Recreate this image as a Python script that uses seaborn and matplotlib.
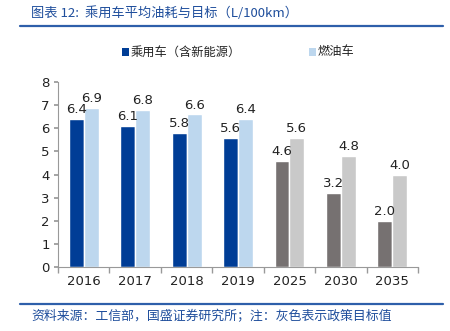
import matplotlib
matplotlib.use("Agg")
import matplotlib.pyplot as plt
import seaborn as sns
import pandas as pd
import numpy as np
from matplotlib.lines import Line2D
from matplotlib.patches import Rectangle

years = ['2016', '2017', '2018', '2019', '2025', '2030', '2035']
passenger = [6.4, 6.1, 5.8, 5.6, 4.6, 3.2, 2.0]
fuel = [6.9, 6.8, 6.6, 6.4, 5.6, 4.8, 4.0]
series_names = ['乘用车（含新能源）', '燃油车']
target_years = ['2025', '2030', '2035']

sns.set_theme(style="white")
plt.rcParams['font.family'] = ['Noto Sans CJK SC', 'DejaVu Sans']

df = pd.DataFrame({
    'year': years * 2,
    'value': passenger + fuel,
    'series': [series_names[0]] * len(years) + [series_names[1]] * len(years),
})

dark_blue = '#003D96'
light_blue = '#BDD7EE'
dark_grey = '#767171'
light_grey = '#C9C9C9'

fig = plt.figure(figsize=(4.5, 3.31), dpi=100)
ax = fig.add_axes([0.129, 0.193, 0.8, 0.559])

sns.barplot(data=df, x='year', y='value', hue='series', order=years,
            hue_order=series_names, palette=[dark_blue, light_blue],
            width=0.58, saturation=1, ax=ax, legend=False)

n = len(years)
for i, patch in enumerate(ax.patches[:2 * n]):
    s, j = divmod(i, n)
    if years[j] in target_years:
        patch.set_facecolor(dark_grey if s == 0 else light_grey)

for s, vals in enumerate([passenger, fuel]):
    for j, v in enumerate(vals):
        p = ax.patches[s * n + j]
        ax.annotate(f'{v:.1f}', (p.get_x() + p.get_width() / 2, p.get_height()),
                    xytext=(0, 2), textcoords='offset points',
                    ha='center', va='bottom', fontsize=9.5,
                    family=['DejaVu Sans'], color='#222222')

ax.set_ylim(0, 8)
ax.set_xlim(-0.5, n - 0.5)
ax.set_yticks(range(0, 9))
ax.set_xlabel('')
ax.set_ylabel('')
for lbl in ax.get_xticklabels() + ax.get_yticklabels():
    lbl.set_family(['DejaVu Sans'])
    lbl.set_fontsize(9.5)
    lbl.set_color('#222222')
ax.tick_params(axis='x', which='major', length=0, pad=6)
ax.set_xticks(np.arange(-0.5, n, 1.0), minor=True)
ax.tick_params(axis='x', which='minor', length=4, color='#999999', direction='out', bottom=True)
ax.tick_params(axis='y', which='major', length=3, color='#999999', direction='out', left=True, pad=3)
for side in ['top', 'right']:
    ax.spines[side].set_visible(False)
for side in ['left', 'bottom']:
    ax.spines[side].set_color('#999999')
    ax.spines[side].set_linewidth(0.8)

# legend drawn manually in figure pixels
W, H = 450.0, 331.0
leg_y = 52.0
for (sx, tx), col, name in zip([(122, 131), (309, 318)], [dark_blue, light_blue], series_names):
    fig.add_artist(Rectangle((sx / W, 1 - (leg_y + 3.5) / H), 7 / W, 7 / H,
                             transform=fig.transFigure, facecolor=col, edgecolor='none'))
    fig.text(tx / W, 1 - leg_y / H, name, fontsize=8.8, color='#222222',
             ha='left', va='center')

fig.text(0.069, 0.96, '图表 12:  乘用车平均油耗与目标（L/100km）', fontsize=9.5,
         color='#1F4E9C', style='italic', ha='left', va='center')
fig.add_artist(Line2D([0.045, 0.985], [0.921, 0.921], color='#2E5FAA', lw=1.6,
                      transform=fig.transFigure))
fig.add_artist(Line2D([0.045, 0.985], [0.082, 0.082], color='#2E5FAA', lw=1.6,
                      transform=fig.transFigure))
fig.text(0.069, 0.045, '资料来源：工信部，国盛证券研究所；注：灰色表示政策目标值', fontsize=9.3,
         color='#1F4E9C', style='italic', ha='left', va='center')

fig.savefig('out.png', dpi=100)
